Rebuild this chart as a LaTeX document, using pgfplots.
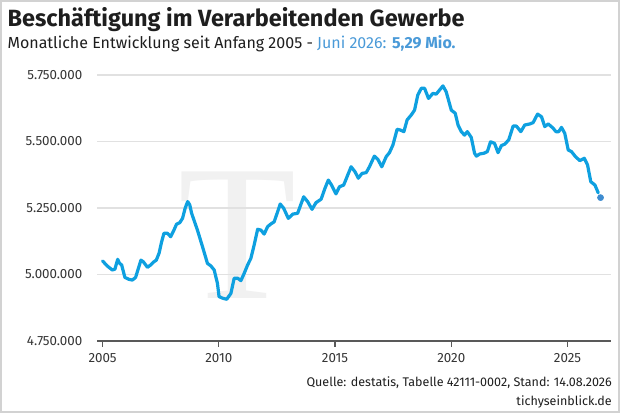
\documentclass[border=0pt]{standalone}
\usepackage{pgfplots}
\pgfplotsset{compat=1.18}
\usepackage{fontspec}
\setmainfont{Fira Sans}
\newfontfamily\wmfont{Liberation Serif}
\definecolor{lineblue}{RGB}{14,160,224}
\definecolor{dotblue}{RGB}{62,140,208}
\definecolor{subblue}{RGB}{74,154,216}
\definecolor{gridgray}{RGB}{225,225,225}
\definecolor{txt}{RGB}{30,30,30}
\definecolor{wm}{RGB}{241,241,241}
\pgfplotstableread{
x y
2005.00 5051
2005.20 5032
2005.42 5017
2005.53 5020
2005.65 5057
2005.73 5042
2005.82 5036
2005.96 4989
2006.13 4982
2006.28 4979
2006.42 4989
2006.54 5023
2006.65 5054
2006.75 5048
2006.93 5027
2007.07 5036
2007.21 5048
2007.31 5054
2007.43 5080
2007.54 5123
2007.64 5155
2007.79 5155
2007.93 5142
2008.07 5167
2008.18 5189
2008.32 5195
2008.44 5211
2008.55 5249
2008.66 5274
2008.75 5262
2008.83 5230
2009.08 5167
2009.30 5104
2009.51 5042
2009.66 5032
2009.80 5017
2009.94 4967
2010.01 4917
2010.16 4911
2010.34 4907
2010.52 4929
2010.66 4986
2010.81 4986
2010.95 4977
2011.09 5004
2011.24 5036
2011.38 5061
2011.52 5111
2011.67 5170
2011.81 5167
2011.95 5152
2012.10 5180
2012.24 5190
2012.38 5198
2012.53 5236
2012.64 5265
2012.79 5249
2012.99 5211
2013.18 5227
2013.39 5230
2013.65 5292
2013.82 5274
2014.01 5245
2014.18 5270
2014.40 5283
2014.57 5325
2014.71 5355
2014.85 5336
2015.04 5303
2015.19 5330
2015.37 5336
2015.69 5405
2015.86 5386
2016.00 5362
2016.16 5380
2016.34 5383
2016.48 5405
2016.69 5445
2016.84 5433
2017.01 5405
2017.20 5443
2017.34 5458
2017.49 5487
2017.67 5546
2017.81 5543
2017.96 5537
2018.10 5581
2018.28 5600
2018.42 5618
2018.56 5675
2018.71 5700
2018.85 5700
2019.02 5662
2019.21 5681
2019.35 5678
2019.50 5694
2019.64 5709
2019.78 5687
2020.00 5618
2020.17 5606
2020.29 5562
2020.43 5537
2020.57 5524
2020.69 5537
2020.86 5515
2021.00 5456
2021.08 5445
2021.22 5453
2021.41 5456
2021.55 5462
2021.69 5499
2021.86 5493
2022.01 5458
2022.16 5485
2022.30 5490
2022.47 5506
2022.66 5558
2022.80 5558
2022.99 5537
2023.16 5562
2023.38 5566
2023.52 5571
2023.71 5603
2023.88 5593
2024.02 5556
2024.17 5566
2024.38 5550
2024.50 5537
2024.62 5537
2024.74 5553
2024.88 5531
2025.03 5468
2025.17 5462
2025.34 5443
2025.53 5428
2025.72 5437
2025.86 5412
2026.00 5349
2026.18 5336
2026.32 5307
}\maindata
\begin{document}
\begin{tikzpicture}[x=1pt,y=1pt]
\useasboundingbox (0,0) rectangle (465,309.75);
\fill[white] (0,0) rectangle (465,309.75);
% watermark letter
\node[anchor=base, text=wm, inner sep=0] at (178,86) {\wmfont\fontsize{145}{145}\selectfont T};
\draw[gray!35, line width=1.5pt] (0.75,0.75) rectangle (464.25,309);
\node[anchor=base west, inner sep=0, text=txt] at (5.5,289.5) {\fontsize{17.6}{20}\selectfont\bfseries Beschäftigung im Verarbeitenden Gewerbe};
\node[anchor=base west, inner sep=0, text=txt] at (5.5,273) {\fontsize{12}{14}\selectfont Monatliche Entwicklung seit Anfang 2005 - \textcolor{subblue}{Juni 2026: \bfseries 5,29 Mio.}};
\node[anchor=base east, inner sep=0, text=txt] at (459,19.5) {\fontsize{9.4}{11}\selectfont Quelle: destatis, Tabelle 42111-0002, Stand: 14.08.2026};
\node[anchor=base east, inner sep=0, text=txt] at (459,5.8) {\fontsize{9.4}{11}\selectfont tichyseinblick.de};
\begin{axis}[
  at={(72.75pt,54pt)}, anchor=south west,
  scale only axis, width=385.5pt, height=199.5pt,
  xmin=2004.76, xmax=2026.87, ymin=4750, ymax=5750,
  axis lines*=left,
  y axis line style={draw=none},
  x axis line style={draw=black!65, line width=0.9pt},
  ymajorgrids, grid style={gridgray, line width=1pt},
  ytick={4750,5000,5250,5500,5750},
  yticklabels={4.750.000,5.000.000,5.250.000,5.500.000,5.750.000},
  xtick={2005,2010,2015,2020,2025},
  xticklabels={2005,2010,2015,2020,2025},
  ytick style={draw=none},
  xtick style={draw=black!65, line width=0.9pt},
  tick align=outside, major tick length=4.5pt,
  ticklabel style={font=\fontsize{10}{12}\selectfont, text=txt!90},
  yticklabel style={xshift=-3pt},
  xticklabel style={yshift=-1pt},
  clip=false,
]
\addplot[lineblue, line width=2.4pt, line join=round, line cap=round] table[x=x,y=y] {\maindata};
\addplot[only marks, mark=*, mark size=2.3pt, dotblue] coordinates {(2026.42,5289)};
\end{axis}
\end{tikzpicture}
\end{document}
